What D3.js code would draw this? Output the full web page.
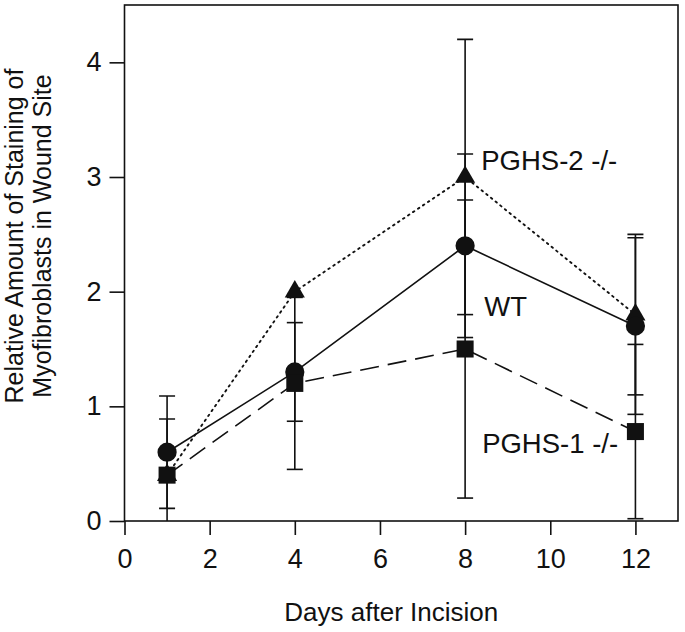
<!DOCTYPE html>
<html>
<head>
<meta charset="utf-8">
<script src="https://cdn.jsdelivr.net/npm/d3@7"></script>
<style>
  html, body { margin: 0; padding: 0; background: #fff; }
  text { font-family: "Liberation Sans", Arial, Helvetica, sans-serif; fill: #111; }
</style>
</head>
<body>
<svg id="chart" width="685" height="632"></svg>
<script>
// ---- data ----
const days = [1, 4, 8, 12];
const wtValues = [0.6, 1.3, 2.4, 1.7];
const wtErr = [0.49, 0.43, 0.8, 0.77];
const pghs1Values = [0.4, 1.2, 1.5, 0.78];
const pghs1Err = [0, 0.75, 1.3, 0.76];
const pghs2Values = [0.4, 2.0, 3.0, 1.8];
const pghs2Err = [0.49, 0, 1.2, 0.7];
const xTicks = [0, 2, 4, 6, 8, 10, 12];
const yTicks = [0, 1, 2, 3, 4];
const seriesLabels = [
  { text: "PGHS-2 -/-", x: 8.38, y: 3.06 },
  { text: "WT", x: 8.45, y: 1.79 },
  { text: "PGHS-1 -/-", x: 8.4, y: 0.59 }
];

(function () {
// ---- layout ----
const svg = d3.select("#chart");
const pLeft = 124.5, pRight = 678, pTop = 5, pBottom = 521;
const x = d3.scaleLinear().domain([0, 13]).range([pLeft, pRight]);
const y = d3.scaleLinear().domain([0, 4.5]).range([pBottom, pTop]);
const ink = "#111";

svg.append("defs").append("clipPath").attr("id", "plotclip")
  .append("rect").attr("x", pLeft).attr("y", pTop)
  .attr("width", pRight - pLeft).attr("height", pBottom - pTop);

// frame
svg.append("rect").attr("x", pLeft).attr("y", pTop)
  .attr("width", pRight - pLeft).attr("height", pBottom - pTop)
  .attr("fill", "none").attr("stroke", ink).attr("stroke-width", 1.6);

// axes
const xAxis = d3.axisBottom(x).tickValues(xTicks).tickFormat(d3.format("d"))
  .tickSize(14).tickPadding(14).tickSizeOuter(0);
const gx = svg.append("g").attr("transform", `translate(0,${pBottom})`).call(xAxis);
gx.select(".domain").remove();
gx.selectAll(".tick line").attr("stroke", ink).attr("stroke-width", 1.6);
gx.selectAll(".tick text").attr("font-size", 27).attr("fill", ink)
  .attr("font-family", "Liberation Sans, Arial, sans-serif");

const yAxis = d3.axisLeft(y).tickValues(yTicks).tickFormat(d3.format("d"))
  .tickSize(15).tickPadding(8).tickSizeOuter(0);
const gy = svg.append("g").attr("transform", `translate(${pLeft},0)`).call(yAxis);
gy.select(".domain").remove();
gy.selectAll(".tick line").attr("stroke", ink).attr("stroke-width", 1.6);
gy.selectAll(".tick text").attr("font-size", 27).attr("fill", ink)
  .attr("font-family", "Liberation Sans, Arial, sans-serif");

// axis titles
svg.append("text").attr("x", x(6.5) - 10).attr("y", 621)
  .attr("text-anchor", "middle").attr("font-size", 26)
  .text("Days after Incision");
const yt = svg.append("text").attr("transform", "translate(23,236) rotate(-90)")
  .attr("text-anchor", "middle").attr("font-size", 25);
yt.append("tspan").attr("x", 0).attr("dy", 0).text("Relative Amount of Staining of");
yt.append("tspan").attr("x", 0).attr("dy", 28).text("Myofibroblasts in Wound Site");

const series = [
  { vals: pghs2Values, err: pghs2Err, marker: "triangle", dash: "1.6,4.4", cap: "round" },
  { vals: wtValues, err: wtErr, marker: "circle", dash: null, cap: "butt" },
  { vals: pghs1Values, err: pghs1Err, marker: "square", dash: "19,9", cap: "butt" }
];

// error bars
const eb = svg.append("g").attr("clip-path", "url(#plotclip)");
series.forEach(s => {
  days.forEach((d, i) => {
    const e = s.err[i];
    if (!e) return;
    const cx = x(d), hi = y(s.vals[i] + e), lo = y(s.vals[i] - e);
    eb.append("line").attr("x1", cx).attr("x2", cx).attr("y1", hi).attr("y2", lo)
      .attr("stroke", ink).attr("stroke-width", 1.6);
    [hi, lo].forEach(yy => {
      eb.append("line").attr("x1", cx - 8).attr("x2", cx + 8).attr("y1", yy).attr("y2", yy)
        .attr("stroke", ink).attr("stroke-width", 1.6);
    });
  });
});

// lines
const line = d3.line().x((d, i) => x(days[i])).y(d => y(d));
series.forEach(s => {
  svg.append("path").datum(s.vals).attr("d", line)
    .attr("fill", "none").attr("stroke", ink)
    .attr("stroke-width", s.dash && s.cap === "round" ? 1.9 : 1.6)
    .attr("stroke-linecap", s.cap)
    .attr("stroke-dasharray", s.dash);
});

// markers
const sym = {
  triangle: d3.symbol().type(d3.symbolTriangle).size(175),
  circle: d3.symbol().type(d3.symbolCircle).size(290),
  square: d3.symbol().type(d3.symbolSquare).size(290)
};
series.forEach(s => {
  svg.append("g").selectAll("path").data(s.vals).join("path")
    .attr("d", sym[s.marker]())
    .attr("transform", (d, i) => `translate(${x(days[i])},${y(d)})`)
    .attr("fill", ink);
});

// series labels
svg.append("g").selectAll("text").data(seriesLabels).join("text")
  .attr("x", d => x(d.x)).attr("y", d => y(d.y))
  .attr("font-size", 27.5).text(d => d.text);
})();
</script>
</body>
</html>
